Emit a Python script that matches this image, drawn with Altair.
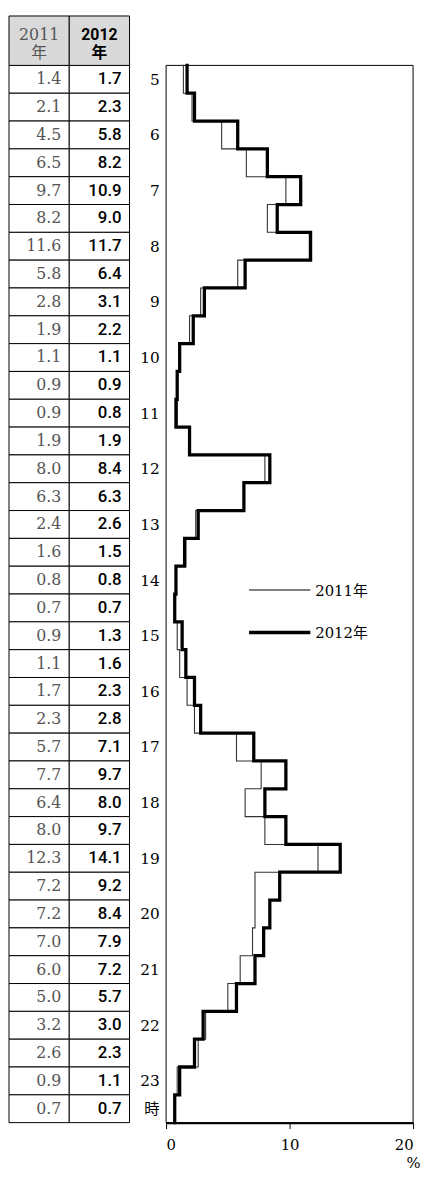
import altair as alt
import pandas as pd

# ---- data ----
series_names = ["2011年", "2012年"]
header_top = ["2011", "2012"]
header_bottom = ["年", "年"]
hour_labels = ["5", "6", "7", "8", "9", "10", "11", "12", "13", "14", "15",
               "16", "17", "18", "19", "20", "21", "22", "23", "時"]
hour_label_rows = [0, 2, 4, 6, 8, 10, 12, 14, 16, 18, 20, 22, 24, 26, 28, 30,
                   32, 34, 36, 37]
v2011 = [1.4, 2.1, 4.5, 6.5, 9.7, 8.2, 11.6, 5.8, 2.8, 1.9, 1.1, 0.9, 0.9, 1.9,
         8.0, 6.3, 2.4, 1.6, 0.8, 0.7, 0.9, 1.1, 1.7, 2.3, 5.7, 7.7, 6.4, 8.0,
         12.3, 7.2, 7.2, 7.0, 6.0, 5.0, 3.2, 2.6, 0.9, 0.7]
v2012 = [1.7, 2.3, 5.8, 8.2, 10.9, 9.0, 11.7, 6.4, 3.1, 2.2, 1.1, 0.9, 0.8, 1.9,
         8.4, 6.3, 2.6, 1.5, 0.8, 0.7, 1.3, 1.6, 2.3, 2.8, 7.1, 9.7, 8.0, 9.7,
         14.1, 9.2, 8.4, 7.9, 7.2, 5.7, 3.0, 2.3, 1.1, 0.7]
x_ticks = [0, 10, 20]

# ---- layout ----
N = len(v2011)
ROW_PX = 28.16
HEADER_PX = 50
H = HEADER_PX / ROW_PX
TOTAL_H = HEADER_PX + N * ROW_PX
TABLE_W = 122
PLOT_W = 250
SERIF = "DejaVu Serif, Noto Sans CJK JP"
SANS = "Roboto, Liberation Sans, Noto Sans CJK JP"

yscale = alt.Scale(domain=[-H, N], reverse=True, nice=False, zero=False)
tx = alt.Scale(domain=[0, 2], nice=False, zero=True)

# ---- table ----
cells = []
for c, vals in enumerate([v2011, v2012]):
    for i, v in enumerate(vals):
        cells.append({"col": c, "c2": c + 1, "row": i, "r2": i + 1,
                      "ym": i + 0.5, "val": v})
cells_df = pd.DataFrame(cells)
head_df = pd.DataFrame({
    "col": [0, 1], "c2": [1, 2], "top": [-H, -H], "bot": [0, 0],
    "cx": [0.5, 1.5],
    "y1": [-H * 0.62, -H * 0.62], "y2": [-H * 0.24, -H * 0.24],
    "l1": header_top, "l2": header_bottom,
})

cell_rects = alt.Chart(cells_df).mark_rect(
    fill="white", stroke="black", strokeWidth=1
).encode(
    x=alt.X("col:Q", scale=tx, axis=None), x2="c2:Q",
    y=alt.Y("row:Q", scale=yscale, axis=None), y2="r2:Q",
)
head_rects = alt.Chart(head_df).mark_rect(
    fill="#d9d9d9", stroke="black", strokeWidth=1
).encode(
    x=alt.X("col:Q", scale=tx, axis=None), x2="c2:Q",
    y=alt.Y("top:Q", scale=yscale, axis=None), y2="bot:Q",
)


def head_text(col, line_field, y_field, font, weight, color):
    return alt.Chart(head_df[head_df.col == col]).mark_text(
        font=font, fontSize=16, fontWeight=weight, color=color,
        baseline="middle", align="center"
    ).encode(
        x=alt.X("cx:Q", scale=tx, axis=None),
        y=alt.Y(f"{y_field}:Q", scale=yscale, axis=None),
        text=f"{line_field}:N",
    )


head_texts = [
    head_text(0, "l1", "y1", SERIF, "normal", "#555"),
    head_text(0, "l2", "y2", SERIF, "normal", "#555"),
    head_text(1, "l1", "y1", SANS, "bold", "black"),
    head_text(1, "l2", "y2", SANS, "bold", "black"),
]

cell_text_2011 = alt.Chart(cells_df[cells_df.col == 0]).mark_text(
    font=SERIF, fontSize=16, color="#555", align="right", baseline="middle",
    dx=-8
).encode(
    x=alt.X("c2:Q", scale=tx, axis=None),
    y=alt.Y("ym:Q", scale=yscale, axis=None),
    text=alt.Text("val:Q", format=".1f"),
)
cell_text_2012 = alt.Chart(cells_df[cells_df.col == 1]).mark_text(
    font=SANS, fontSize=17, fontWeight=500, color="black", align="right",
    baseline="middle", dx=-8
).encode(
    x=alt.X("c2:Q", scale=tx, axis=None),
    y=alt.Y("ym:Q", scale=yscale, axis=None),
    text=alt.Text("val:Q", format=".1f"),
)
table = alt.layer(
    cell_rects, head_rects, *head_texts, cell_text_2011, cell_text_2012
).properties(width=TABLE_W, height=TOTAL_H)

# ---- step lines ----
pts = []
for s, vals in zip(series_names, [v2011, v2012]):
    for i, v in enumerate(vals):
        pts.append({"series": s, "pct": v, "pos": i, "ord": 2 * i})
        pts.append({"series": s, "pct": v, "pos": i + 1, "ord": 2 * i + 1})
pts_df = pd.DataFrame(pts)

label_vals = [r + 0.5 for r in hour_label_rows]
expr = "''"
for v, lab in reversed(list(zip(label_vals, hour_labels))):
    expr = f"datum.value == {v} ? '{lab}' : ({expr})"

xscale = alt.Scale(domain=[0, 20], nice=False, zero=True)

lines = alt.Chart(pts_df).mark_line(strokeJoin="miter", strokeCap="square").encode(
    x=alt.X("pct:Q", scale=xscale, axis=alt.Axis(
        values=x_ticks, title="%", grid=False, domainColor="black",
        domainWidth=2, tickColor="black", tickSize=6, tickWidth=1,
        labelFont=SERIF, labelFontSize=15, labelColor="black", labelPadding=9,
        titleFont=SERIF, titleFontSize=15, titleFontWeight="normal",
        titleColor="black", titleX=PLOT_W + 7, titleY=48, titleAlign="right",
        titleBaseline="bottom",
    )),
    y=alt.Y("pos:Q", scale=yscale, axis=alt.Axis(
        values=label_vals, labelExpr=expr, title=None, grid=False,
        domain=False, ticks=False, labelFont=SERIF, labelFontSize=15.5,
        labelColor="black", labelPadding=7, labelAlign="right",
        labelBaseline="middle", minExtent=36, maxExtent=36,
    )),
    order="ord:Q",
    detail="series:N",
    color=alt.Color("series:N", scale=alt.Scale(domain=series_names,
                    range=["#333333", "#000000"]), legend=None),
    strokeWidth=alt.StrokeWidth("series:N", scale=alt.Scale(
        domain=series_names, range=[1.1, 3.3]), legend=None),
)

frame = alt.Chart(pd.DataFrame({"k": [0]})).mark_rect(
    fillOpacity=0, stroke="black", strokeWidth=1
).encode(
    x=alt.datum(0), x2=alt.datum(20), y=alt.datum(0), y2=alt.datum(N)
)

legend_layers = []
for name, ypix, sw in zip(series_names, [581, 624], [1.1, 3.6]):
    legend_layers.append(
        alt.Chart(pd.DataFrame({"k": [0]})).mark_rule(
            color="black", strokeWidth=sw
        ).encode(x=alt.value(84), x2=alt.value(146), y=alt.value(ypix))
    )
    legend_layers.append(
        alt.Chart(pd.DataFrame({"k": [0]})).mark_text(
            font=SERIF, fontSize=15, color="black", align="left",
            baseline="middle"
        ).encode(x=alt.value(151), y=alt.value(ypix + 1), text=alt.value(name))
    )

plot = alt.layer(frame, lines, *legend_layers).properties(
    width=PLOT_W, height=TOTAL_H
)

chart = alt.hconcat(table, plot, spacing=0).properties(
    padding={"left": 0, "top": 0, "right": 0, "bottom": 0}
).configure_view(stroke=None)

chart.save("out.html", embed_options={"renderer": "svg", "actions": False})
